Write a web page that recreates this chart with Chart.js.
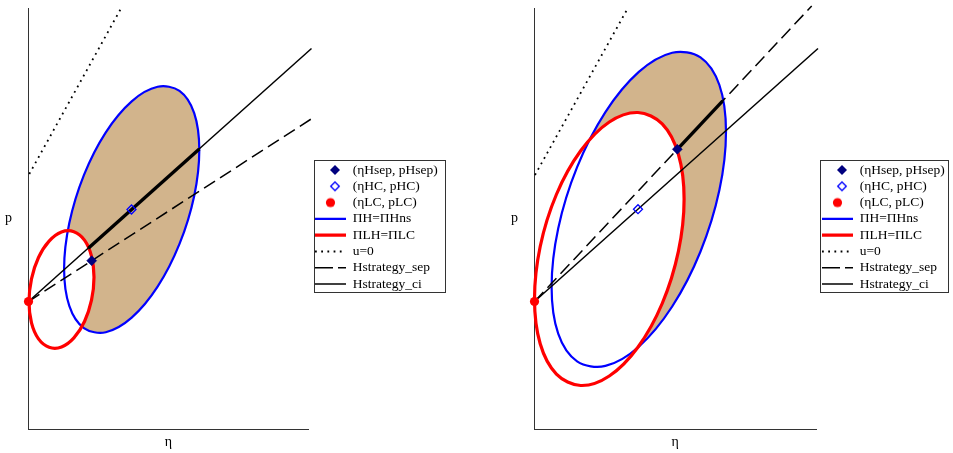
<!DOCTYPE html>
<html>
<head>
<meta charset="utf-8">
<script src="https://cdn.jsdelivr.net/npm/chart.js@4.4.1/dist/chart.umd.min.js"></script>
<style>
  html, body { margin: 0; padding: 0; background: #ffffff; }
  #wrap { position: relative; width: 953px; height: 453px; overflow: hidden; background: #ffffff; }
  #wrap canvas { position: absolute; left: 0; top: 0; }
</style>
</head>
<body>
<div id="wrap">
  <canvas id="leftPanel" width="953" height="453"></canvas>
  <canvas id="rightPanel" width="953" height="453"></canvas>
</div>
<script>
// ---------------- text ----------------
const legendLabels = ['(ηHsep, pHsep)', '(ηHC, pHC)', '(ηLC, pLC)', 'ΠH=ΠHns', 'ΠLH=ΠLC', 'u=0', 'Hstrategy_sep', 'Hstrategy_ci'];
const axisLabelX = 'η';
const axisLabelY = 'p';

// ---------------- left panel data (η, p) ----------------
const leftHsep = [[63.2, 168.8]];
const leftHC = [[103.0, 220.0]];
const leftLC = [[0, 128.0]];
const leftU0 = [[0.8, 255.5], [93.0, 422.0]];
const leftSep = [[0, 128.0], [282.5, 310.4]];
const leftCi = [[0, 128.0], [283.0, 381.0]];
const leftCiBold = [[59.8, 181.2], [170.8, 280.5]];
const leftBlue = [[170.8,279.5],[165.7,316.4],[151.0,338.6],[129.1,342.7],[103.2,328.2],[77.3,297.2],[55.4,254.4],[40.8,206.4],[35.6,160.5],[40.8,123.6],[55.4,101.4],[77.3,97.3],[103.2,111.8],[129.1,142.8],[151.0,185.6],[165.7,233.6]];
const leftRed = [[65.5,152.3],[63.0,173.4],[56.0,189.4],[45.4,197.8],[33.0,197.5],[20.6,188.4],[10.0,172.0],[3.0,150.7],[0.5,127.7],[3.0,106.6],[10.0,90.6],[20.6,82.2],[33.0,82.5],[45.4,91.6],[56.0,108.0],[63.0,129.3]];

// ---------------- right panel data (η, p) ----------------
const rightHsep = [[142.8, 280.2]];
const rightHC = [[103.5, 220.3]];
const rightLC = [[0, 128.0]];
const rightU0 = [[0.5, 254.5], [93.8, 422.2]];
const rightSep = [[0, 128.0], [277.2, 423.5]];
const rightCi = [[0, 128.0], [283.5, 381.0]];
const rightSepBold = [[142.8, 280.2], [188.2, 328.6]];
const rightBlue = [[191.5,297.8],[184.9,344.5],[166.0,372.2],[137.7,376.8],[104.3,357.6],[70.9,317.4],[42.6,262.4],[23.7,201.1],[17.1,142.6],[23.7,95.9],[42.6,68.2],[70.9,63.6],[104.3,82.8],[137.7,123.0],[166.0,178.0],[184.9,239.4]];
const rightRed = [[149.6,230.5],[143.9,275.3],[127.7,305.7],[103.4,317.0],[74.8,307.5],[46.2,278.7],[21.9,235.0],[5.7,183.0],[0.0,130.5],[5.7,85.7],[21.9,55.4],[46.2,44.0],[74.8,53.5],[103.4,82.3],[127.7,126.0],[143.9,178.1]];

// ---------------- styles ----------------
const NAVY = '#00007f', BLUE = '#0000ff', RED = '#ff0000', TAN = '#d2b48c', AXIS = '#333333';
const SERIF = '"Liberation Serif", "Times New Roman", serif';
Chart.defaults.font.family = SERIF;

function markerImage(kind) {
  const c = document.createElement('canvas');
  c.width = 21; c.height = 14;
  const g = c.getContext('2d');
  g.beginPath();
  if (kind === 'dot') {
    g.arc(10.5, 7, 4.6, 0, Math.PI * 2);
    g.fillStyle = RED; g.fill();
  } else {
    const cx = 15, cy = 7, r = kind === 'filled' ? 5 : 4.3;
    g.moveTo(cx - r, cy); g.lineTo(cx, cy - r); g.lineTo(cx + r, cy); g.lineTo(cx, cy + r); g.closePath();
    if (kind === 'filled') { g.fillStyle = NAVY; g.fill(); }
    else { g.strokeStyle = BLUE; g.lineWidth = 1.3; g.stroke(); }
  }
  return c;
}
const legendStyles = [
  { pointStyle: markerImage('filled') },
  { pointStyle: markerImage('hollow') },
  { pointStyle: markerImage('dot') },
  { pointStyle: 'line', strokeStyle: BLUE, lineWidth: 2.2 },
  { pointStyle: 'line', strokeStyle: RED, lineWidth: 3.2 },
  { pointStyle: 'line', strokeStyle: '#000', lineWidth: 1.8, lineDash: [1.8, 4.4] },
  { pointStyle: 'line', strokeStyle: '#000', lineWidth: 1.5, lineDash: [18, 5] },
  { pointStyle: 'line', strokeStyle: '#000', lineWidth: 1.5 }
];
const legendDatasetIndex = [0, 1, 2, 8, 7, 4, 5, 6];

const toXY = arr => arr.map(([x, y]) => ({ x, y }));

function buildDatasets(P) {
  const common = { pointRadius: 0, clip: false };
  return [
    { label: legendLabels[0], data: toXY(P.hsep), showLine: false, pointStyle: 'rectRot', pointRadius: 5, pointBackgroundColor: NAVY, pointBorderColor: NAVY, pointBorderWidth: 0.5, clip: false },
    { label: legendLabels[1], data: toXY(P.hc), showLine: false, pointStyle: 'rectRot', pointRadius: 4.5, pointBackgroundColor: 'rgba(0,0,0,0)', pointBorderColor: BLUE, pointBorderWidth: 1.3, clip: false },
    { label: legendLabels[2], data: toXY(P.lc), showLine: false, pointStyle: 'circle', pointRadius: 4.6, pointBackgroundColor: RED, pointBorderColor: RED, pointBorderWidth: 0, clip: false },
    { label: 'bold', data: toXY(P.bold), borderColor: '#000', borderWidth: 3.4, ...common },
    { label: legendLabels[5], data: toXY(P.u0), borderColor: '#000', borderWidth: 1.8, borderDash: [1.8, 4.4], ...common },
    { label: legendLabels[6], data: toXY(P.sep), borderColor: '#000', borderWidth: 1.5, borderDash: [13, 6], ...common },
    { label: legendLabels[7], data: toXY(P.ci), borderColor: '#000', borderWidth: 1.5, ...common },
    { label: legendLabels[4], data: toXY(P.red), borderColor: RED, borderWidth: 3.2, backgroundColor: '#ffffff', fill: 'shape', tension: 0.34, spanGaps: true, capBezierPoints: false, closedCurve: true, ...common },
    { label: legendLabels[3], data: toXY(P.blue), borderColor: BLUE, borderWidth: 2.2, backgroundColor: TAN, fill: 'shape', tension: 0.34, spanGaps: true, capBezierPoints: false, closedCurve: true, ...common }
  ];
}

const decorPlugin = {
  id: 'decor',
  afterDatasetsUpdate(chart) {
    chart.data.datasets.forEach((ds, i) => {
      if (ds.closedCurve) {
        const line = chart.getDatasetMeta(i).dataset;
        if (line) {
          line._loop = true; line._fullLoop = true;
          line._segments = undefined; line._path = undefined; line._pointsUpdated = false;
        }
      }
    });
  },
  afterUpdate(chart, args, opts) {
    const L = chart.legend;
    if (!L) return;
    L.left = opts.legendLeft; L.top = opts.legendTop;
    L.width = 200; L.height = 300;
    L.right = L.left + 200; L.bottom = L.top + 300;
  },
  afterDraw(chart, args, opts) {
    const ctx = chart.ctx, a = chart.chartArea;
    ctx.save();
    ctx.font = '14px ' + SERIF;
    ctx.fillStyle = '#000';
    ctx.textAlign = 'center';
    ctx.textBaseline = 'middle';
    ctx.fillText(axisLabelY, a.left - 20, (a.top + a.bottom) / 2 - 1);
    const f = opts.frame;
    ctx.strokeStyle = AXIS;
    ctx.lineWidth = 1;
    ctx.strokeRect(f[0], f[1], f[2], f[3]);
    ctx.restore();
  }
};

function makeChart(id, P, cfg) {
  return new Chart(document.getElementById(id), {
    type: 'line',
    data: { datasets: buildDatasets(P) },
    options: {
      responsive: false,
      animation: false,
      devicePixelRatio: 1,
      events: [],
      layout: { padding: cfg.padding },
      scales: {
        x: {
          type: 'linear', min: 0, max: cfg.xMax,
          grid: { display: false, drawTicks: false },
          ticks: { display: false },
          border: { display: true, color: AXIS, width: 1 },
          title: { display: true, text: axisLabelX, color: '#000', font: { family: SERIF, size: 14 }, padding: { top: 4.4, bottom: 0 } }
        },
        y: {
          type: 'linear', min: 0, max: 421,
          grid: { display: false, drawTicks: false },
          ticks: { display: false },
          border: { display: true, color: AXIS, width: 1 }
        }
      },
      plugins: {
        filler: { drawTime: 'beforeDatasetsDraw' },
        tooltip: { enabled: false },
        legend: {
          display: true,
          position: 'chartArea',
          align: 'start',
          labels: {
            usePointStyle: true,
            pointStyleWidth: 31,
            padding: 2.8,
            color: '#000',
            font: { family: SERIF, size: 13.5 },
            generateLabels: () => legendLabels.map((t, i) => Object.assign({
              text: t, datasetIndex: legendDatasetIndex[i], hidden: false,
              fillStyle: 'rgba(0,0,0,0)', fontColor: '#000', textAlign: 'left', lineCap: 'butt'
            }, legendStyles[i]))
          }
        },
        decor: cfg.decor
      }
    },
    plugins: [decorPlugin]
  });
}

makeChart('leftPanel',
  { hsep: leftHsep, hc: leftHC, lc: leftLC, u0: leftU0, sep: leftSep, ci: leftCi, bold: leftCiBold, blue: leftBlue, red: leftRed },
  { xMax: 280, padding: { left: 28.5, right: 644.5, top: 8.5, bottom: 2.3 },
    decor: { legendLeft: 312.2, legendTop: 160.45, frame: [314.5, 160.5, 131, 132] } });

makeChart('rightPanel',
  { hsep: rightHsep, hc: rightHC, lc: rightLC, u0: rightU0, sep: rightSep, ci: rightCi, bold: rightSepBold, blue: rightBlue, red: rightRed },
  { xMax: 281.5, padding: { left: 534.5, right: 137, top: 8.5, bottom: 2.3 },
    decor: { legendLeft: 819.2, legendTop: 160.45, frame: [820.5, 160.5, 128, 132] } });
</script>
</body>
</html>
